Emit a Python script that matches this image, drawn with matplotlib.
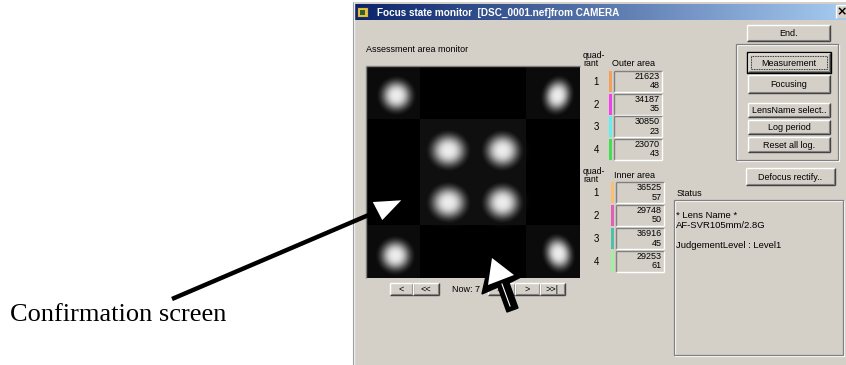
import numpy as np
import matplotlib
matplotlib.use("Agg")
import matplotlib.pyplot as plt
from matplotlib.patches import Rectangle, Polygon

# ---------------- data ----------------
title = "Focus state monitor  [DSC_0001.nef]from CAMERA"
quadrants = ["1", "2", "3", "4"]
outer_values = [21623, 34187, 30850, 23070]
outer_sub = [48, 35, 23, 43]
outer_colors = ["#f4a05a", "#f040f0", "#60f0f0", "#40e050"]
inner_values = [36525, 29748, 36916, 29253]
inner_sub = [57, 50, 45, 61]
inner_colors = ["#f8c070", "#e060b8", "#50c0a8", "#a0f0a0"]
button_labels = ["Measurement", "Focusing", "LensName select..", "Log period", "Reset all log."]
status_lines = ["* Lens Name *", "AF-SVR105mm/2.8G", "", "JudgementLevel : Level1"]
nav_labels = ["<", "<<", ">>", ">", ">>|"]
now_label = "Now: 7"
caption = "Confirmation screen"
# blob centres in image pixel coords (x, y, sx, sy, angle)
blobs = [(29, 28, 12.5, 12.5, 0), (190, 28, 10.5, 13, 15), (28, 188, 12.5, 12.5, 0), (191, 186, 10.5, 13, -15),
         (81, 83, 14.5, 13.5, 0), (135, 83, 14, 13.5, 0), (81, 135, 14.5, 13.5, 0), (135, 135, 14, 13.5, 0)]

W, H = 846, 365
fig = plt.figure(figsize=(W / 100, H / 100), dpi=100)
ax = fig.add_axes([0, 0, 1, 1])
ax.set_xlim(0, W)
ax.set_ylim(H, 0)
ax.axis("off")
fig.patch.set_facecolor("white")

UI = "Liberation Sans"
FACE = "#d4d0c8"


def line(x0, y0, x1, y1, c, lw=1.0, z=3):
    ax.plot([x0, x1], [y0, y1], color=c, lw=lw, solid_capstyle="butt", zorder=z)


def button(x0, y0, x1, y1, label, default=False, fs=6.5):
    ax.add_patch(Rectangle((x0, y0), x1 - x0, y1 - y0, fc=FACE, ec="none", zorder=2))
    line(x0, y0, x1, y0, "white", 1.0)
    line(x0, y0, x0, y1, "white", 1.0)
    line(x0, y1, x1, y1, "#404040", 1.0)
    line(x1, y0, x1, y1, "#404040", 1.0)
    line(x0 + 1, y1 - 1, x1 - 1, y1 - 1, "#808080", 0.8)
    line(x1 - 1, y0 + 1, x1 - 1, y1 - 1, "#808080", 0.8)
    if default:
        ax.add_patch(Rectangle((x0 - 1, y0 - 1), x1 - x0 + 2, y1 - y0 + 2, fc="none", ec="black", lw=1.0, zorder=3))
        ax.add_patch(Rectangle((x0 + 3, y0 + 3), x1 - x0 - 6, y1 - y0 - 6, fc="none", ec="black",
                               lw=0.6, ls=(0, (1, 1)), zorder=3))
    ax.text((x0 + x1) / 2, (y0 + y1) / 2 + 0.5, label, ha="center", va="center", fontsize=fs,
            family=UI, color="black", zorder=4)


def sunken(x0, y0, x1, y1, face=FACE):
    ax.add_patch(Rectangle((x0, y0), x1 - x0, y1 - y0, fc=face, ec="none", zorder=2))
    line(x0, y0, x1, y0, "#808080", 1.0)
    line(x0, y0, x0, y1, "#808080", 1.0)
    line(x0, y1, x1, y1, "white", 1.0)
    line(x1, y0, x1, y1, "white", 1.0)


def etched(x0, y0, x1, y1):
    ax.add_patch(Rectangle((x0, y0), x1 - x0, y1 - y0, fc="none", ec="#808080", lw=0.9, zorder=3))
    ax.add_patch(Rectangle((x0 + 1, y0 + 1), x1 - x0, y1 - y0, fc="none", ec="white", lw=0.9, zorder=2.9))


# ---------------- window ----------------
ax.add_patch(Rectangle((353, 2), W - 353, H - 2, fc=FACE, ec="none", zorder=1))
line(353.5, 2, 353.5, H, "#f0f0f0", 1.0)
line(352.5, 2, 352.5, H, "#a0a0a0", 0.8)
# title bar gradient
grad = np.linspace(0, 1, 256)[None, :]
c0 = np.array([10, 36, 106]) / 255
c1 = np.array([166, 202, 240]) / 255
gimg = c0[None, None, :] * (1 - grad[..., None]) + c1[None, None, :] * grad[..., None]
ax.imshow(gimg, extent=(355, W, 20, 4), aspect="auto", zorder=2, interpolation="bilinear")
# icon
ax.add_patch(Rectangle((357, 7), 11, 10, fc="#e8c040", ec="#203060", lw=0.8, zorder=3))
ax.add_patch(Rectangle((360, 10), 5, 5, fc="#306030", ec="none", zorder=3.1))
ax.text(377, 12.5, title, ha="left", va="center", fontsize=7.2, family=UI, weight="bold",
        color="white", zorder=4)
ax.add_patch(Rectangle((836, 5), 12, 13, fc=FACE, ec="none", zorder=3))
line(836, 5, 846, 5, "white")
line(836, 5, 836, 18, "white")
ax.text(842, 12, "×", ha="center", va="center", fontsize=9, family="DejaVu Sans", weight="bold",
        color="black", zorder=4)

# ---------------- assessment image ----------------
ax.text(366, 50, "Assessment area monitor", ha="left", va="center", fontsize=6.5, family=UI, zorder=4)
IX0, IY0, IX1, IY1 = 367, 67, 580, 278
iw, ih = IX1 - IX0, IY1 - IY0
img = np.zeros((ih, iw))
cw, chh = iw / 4, ih / 4
for (r, c) in [(0, 0), (0, 3), (3, 0), (3, 3)]:
    img[int(r * chh):int((r + 1) * chh), int(c * cw):int((c + 1) * cw)] = 0.045
img[int(chh):int(3 * chh), int(cw):int(3 * cw)] = 0.06
yy, xx = np.mgrid[0:ih, 0:iw]
for (bx, by, sx, sy, ang) in blobs:
    a = np.deg2rad(ang)
    dx, dy = xx - bx, yy - by
    u = dx * np.cos(a) + dy * np.sin(a)
    v = -dx * np.sin(a) + dy * np.cos(a)
    r2 = (u / sx) ** 2 + (v / sy) ** 2
    img = np.maximum(img, 0.92 * np.exp(-(r2 ** 1.4) * 0.8))
ax.imshow(img, cmap="gray", vmin=0, vmax=1, extent=(IX0, IX1, IY1, IY0), aspect="auto",
          interpolation="bilinear", zorder=2)
line(IX0 - 1, IY0 - 1, IX1, IY0 - 1, "#808080", 1.0)
line(IX0 - 1, IY0 - 1, IX0 - 1, IY1, "#808080", 1.0)

# nav buttons
nav_x = [(390, 413), (413, 439), (488, 515), (515, 540), (540, 565)]
for (x0, x1), lab in zip(nav_x, nav_labels):
    button(x0, 283, x1, 295, lab, fs=6.5)
ax.text(452, 289.5, now_label, ha="left", va="center", fontsize=6.5, family=UI, zorder=4)

# ---------------- quadrant tables ----------------
def quad_table(top_label_y, header, header_y, xbar, xbox0, xbox1, ytops, vals, subs, cols):
    ax.text(583, top_label_y, "quad-", ha="left", va="center", fontsize=6.3, family=UI, zorder=4)
    ax.text(583, top_label_y + 9, "rant", ha="left", va="center", fontsize=6.3, family=UI, zorder=4)
    ax.text(xbox0 - 2, header_y, header, ha="left", va="center", fontsize=6.5, family=UI, zorder=4)
    for q, yt, v, s, col in zip(quadrants, ytops, vals, subs, cols):
        ax.add_patch(Rectangle((xbar, yt), 3, 21, fc=col, ec="none", zorder=3))
        sunken(xbox0, yt, xbox1, yt + 21)
        ax.text(596, yt + 11, q, ha="center", va="center", fontsize=7, family=UI, zorder=4)
        ax.text(xbox1 - 2, yt + 5.5, str(v), ha="right", va="center", fontsize=6.5, family=UI, zorder=4)
        ax.text(xbox1 - 2, yt + 15, str(s), ha="right", va="center", fontsize=6.5, family=UI, zorder=4)


quad_table(55, "Outer area", 63, 609, 614, 662, [71, 93.5, 116, 139], outer_values, outer_sub, outer_colors)
quad_table(171, "Inner area", 176, 611, 616, 664, [182, 205, 228, 251], inner_values, inner_sub, inner_colors)

# ---------------- right buttons ----------------
button(747, 25, 830, 41, "End.")
etched(736, 44, 838, 160)
btn_y = [(53, 72), (75, 93), (103, 117), (120, 134), (137, 152)]
for i, ((y0, y1), lab) in enumerate(zip(btn_y, button_labels)):
    button(748, y0, 830, y1, lab, default=(i == 0))
button(746, 168, 835, 185, "Defocus rectify..")

# ---------------- status ----------------
ax.text(677, 193, "Status", ha="left", va="center", fontsize=6.5, family=UI, zorder=4)
etched(674, 200, 843, 355)
sy = 215
for ln in status_lines:
    if ln:
        ax.text(676, sy, ln, ha="left", va="center", fontsize=6.8, family=UI, zorder=4)
    sy += 10

# ---------------- annotations ----------------
ax.plot([172, 378], [299, 211], color="black", lw=3.2, solid_capstyle="butt", zorder=5)
ax.add_patch(Polygon([(404, 199), (371, 201), (382, 222)], closed=True, fc="white", ec="black",
                     lw=1.6, zorder=6))
ax.text(10, 321, caption, ha="left", va="baseline", fontsize=19, family="Liberation Serif",
        color="black", zorder=6)

# mouse-cursor style arrow
ax.add_patch(Polygon([(491, 254), (482, 294), (498, 287), (507, 312), (518, 308), (509, 283),
                      (521, 277)], closed=True, fc="black", ec="black", lw=1, zorder=6))
ax.plot([502, 510], [284, 306], color="white", lw=0.8, zorder=6.5)
ax.add_patch(Polygon([(492, 258), (488, 285), (514, 275)], closed=True, fc="white", ec="none",
                     zorder=7))

fig.savefig("out.png", dpi=100)
